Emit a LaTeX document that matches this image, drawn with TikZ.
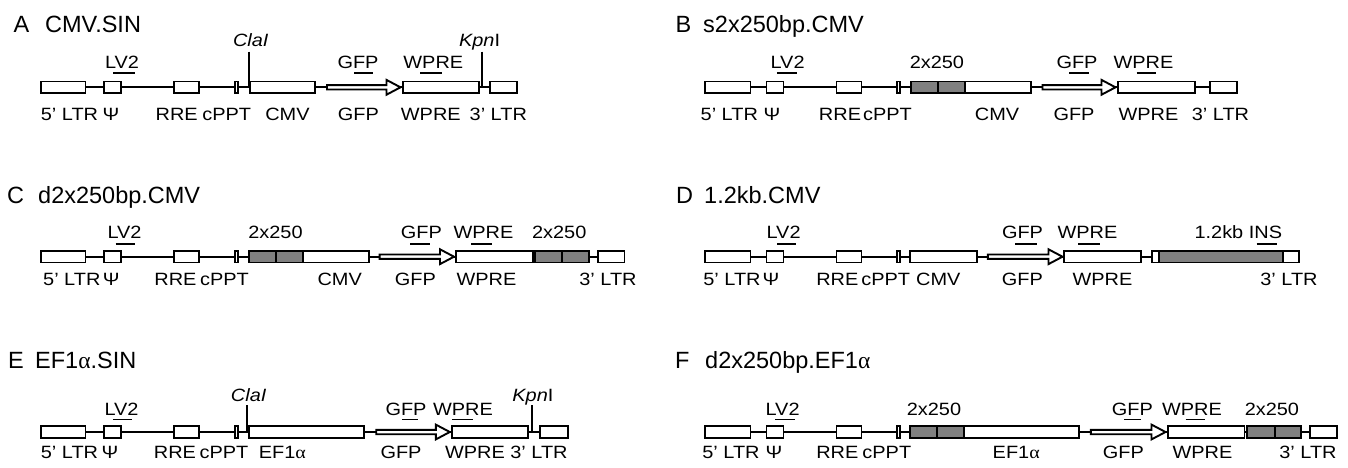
\documentclass[tikz,border=0pt]{standalone}
\usepackage{fontspec}
\setmainfont[FakeStretch=1.12]{Liberation Sans}
\newfontfamily\ttlfam{Liberation Sans}
\newfontfamily\symf[FakeStretch=1.12]{Liberation Serif}
\newfontfamily\symft{Liberation Serif}
\usetikzlibrary{backgrounds}
\definecolor{insgray}{RGB}{128,128,128}
\newcommand\lblfont{\fontsize{17.8}{20}\selectfont}
\newcommand\ttlfont{\ttlfam\fontsize{23.5}{27}\selectfont}
\newcommand\alp{{\symf α}}
\newcommand\alpt{{\symft α}}
\newcommand\mybox[4][]{%
  \pgfmathsetmacro\mbw{#4-#3}\pgfmathsetmacro\mbc{(#3+#4)/2}%
  \node[boxst,#1,minimum width=\mbw pt] (#2) at (\mbc,0) {};}
\newcommand\myarrow[3]{%
  \pgfmathsetmacro\mah{#3-14}%
  \draw[arrst] (#2,-2.2) -- (\mah,-2.2) -- (\mah,-7.4) -- (#3,0) -- (\mah,7.4) -- (\mah,2.2) -- (#2,2.2) -- cycle;
  \coordinate (#1) at (#3,0);}
\newcommand\mydiv[1]{\draw[bb] (#1,-5.9) -- (#1,5.9);}
\newcommand\myul[3]{\draw[ulst] (#1,#3) -- (#2,#3);}
\begin{document}
\begin{tikzpicture}[x=1pt,y=-1pt,
  boxst/.style={draw,line width=1.9pt,fill=white,rectangle,inner sep=0pt,minimum height=11.6pt,outer sep=0pt},
  grayst/.style={fill=insgray},
  arrst/.style={draw,line width=1.9pt,fill=white,line join=miter},
  bb/.style={line width=1.8pt},
  ulst/.style={line width=1.8pt},
  cut/.style={line width=1.8pt},
  lbl/.style={font=\lblfont,inner sep=0pt,anchor=base},
  ttl/.style={font=\ttlfont,inner sep=0pt,anchor=base west}]
\useasboundingbox (0,0) rectangle (1348,467);

% ================= A =================
\node[ttl] (a-let) at (13.5,32.7) {A};
\node[ttl] (a-ttl) at (45,32.7) {CMV.SIN};
\begin{scope}[shift={(0,87.3)}]
\mybox{a-ltr5}{41}{85.5}
\mybox{a-psi}{104}{121.3}
\mybox{a-rre}{174}{199.3}
\mybox{a-cppt}{234.8}{237.9}
\mybox{a-cmv}{250}{315}
\myarrow{a-gfp}{327}{400.5}
\mybox{a-wpre}{403.3}{479}
\mybox{a-ltr3}{490}{517.3}
\begin{scope}[on background layer]\draw[bb] (a-ltr5.center) -- (a-ltr3.center);\end{scope}
\coordinate (a-cla-t) at (248.7,-35.6); \coordinate (a-cla-b) at (248.7,0);
\coordinate (a-kpn-t) at (481.7,-35.6); \coordinate (a-kpn-b) at (481.7,0);
\draw[cut] (a-cla-t) -- (a-cla-b);
\draw[cut] (a-kpn-t) -- (a-kpn-b);
\node[lbl] (a-clal) at (250.8,-40.6) {\itshape ClaI};
\node[lbl] (a-kpnl) at (479.6,-40.6) {{\itshape Kpn}I};
\node[lbl] (a-lv2) at (122,-19) {LV2}; \myul{113}{135}{-14}
\node[lbl] (a-gfpt) at (358,-19) {GFP}; \myul{354.3}{373.3}{-14}
\node[lbl] (a-wpret) at (433.3,-19) {WPRE}; \myul{420}{441.7}{-14}
\node[lbl] (a-b1) at (69.5,33.5) {5' LTR};
\node[lbl] (a-b2) at (111,33.5) {Ψ};
\node[lbl] (a-b3) at (176.7,33.5) {RRE};
\node[lbl] (a-b4) at (226.7,33.5) {cPPT};
\node[lbl] (a-b5) at (287.5,33.5) {CMV};
\node[lbl] (a-b6) at (358.3,33.5) {GFP};
\node[lbl] (a-b7) at (430.8,33.5) {WPRE};
\node[lbl] (a-b8) at (498.3,33.5) {3' LTR};
\end{scope}

% ================= B =================
\node[ttl] (b-let) at (675.5,32.7) {B};
\node[ttl] (b-ttl) at (703,32.7) {s2x250bp.CMV};
\begin{scope}[shift={(0,87.3)}]
\mybox{b-ltr5}{705}{750.5}
\mybox{b-psi}{766.5}{783.5}
\mybox{b-rre}{836.5}{861.5}
\mybox{b-cppt}{897}{900}
\mybox[grayst]{b-ins}{911.2}{964.6}
\mybox{b-cmv}{964.6}{1030.6}
\mydiv{938}
\myarrow{b-gfp}{1042.5}{1115.5}
\mybox{b-wpre}{1118}{1195}
\mybox{b-ltr3}{1209.7}{1236.6}
\begin{scope}[on background layer]\draw[bb] (b-ltr5.center) -- (b-ltr3.center);\end{scope}
\node[lbl] (b-lv2) at (787.6,-19) {LV2}; \myul{776.8}{796.5}{-14}
\node[lbl] (b-ins-t) at (936.9,-19) {2x250};
\node[lbl] (b-gfpt) at (1077,-19) {GFP}; \myul{1069.4}{1089}{-14}
\node[lbl] (b-wpret) at (1143.5,-19) {WPRE}; \myul{1136.6}{1156.4}{-14}
\node[lbl] (b-b1) at (729.3,33.5) {5' LTR};
\node[lbl] (b-b2) at (772,33.5) {Ψ};
\node[lbl] (b-b3) at (840,33.5) {RRE};
\node[lbl] (b-b4) at (887.5,33.5) {cPPT};
\node[lbl] (b-b5) at (997,33.5) {CMV};
\node[lbl] (b-b6) at (1074,33.5) {GFP};
\node[lbl] (b-b7) at (1148.5,33.5) {WPRE};
\node[lbl] (b-b8) at (1220.5,33.5) {3' LTR};
\end{scope}

% ================= C =================
\node[ttl] (c-let) at (7,203) {C};
\node[ttl] (c-ttl) at (38,203) {d2x250bp.CMV};
\begin{scope}[shift={(0,256.7)}]
\mybox{c-ltr5}{41}{85.5}
\mybox{c-psi}{104}{121.3}
\mybox{c-rre}{174}{199.3}
\mybox{c-cppt}{234.8}{237.9}
\mybox[grayst]{c-ins1}{249}{303}
\mybox{c-cmv}{303}{369.4}
\mydiv{276}
\myarrow{c-gfp}{379.6}{454}
\mybox{c-wpre}{455.9}{532.7}
\mybox[grayst]{c-ins2}{534.7}{588.6}
\mydiv{561.7}
\mybox{c-ltr3}{598}{624.5}
\begin{scope}[on background layer]\draw[bb] (c-ltr5.center) -- (c-ltr3.center);\end{scope}
\node[lbl] (c-lv2) at (124.5,-18.4) {LV2}; \myul{115.5}{134.7}{-12.7}
\node[lbl] (c-ins1t) at (275.5,-18.4) {2x250};
\node[lbl] (c-gfpt) at (421.4,-18.4) {GFP}; \myul{410}{430}{-12.7}
\node[lbl] (c-wpret) at (483.5,-18.4) {WPRE}; \myul{471.4}{491.8}{-12.7}
\node[lbl] (c-ins2t) at (559.2,-18.4) {2x250};
\node[lbl] (c-b1) at (71.8,28.3) {5' LTR};
\node[lbl] (c-b2) at (111.2,28.3) {Ψ};
\node[lbl] (c-b3) at (175.5,28.3) {RRE};
\node[lbl] (c-b4) at (224.5,28.3) {cPPT};
\node[lbl] (c-b5) at (339.7,28.3) {CMV};
\node[lbl] (c-b6) at (415.3,28.3) {GFP};
\node[lbl] (c-b7) at (486.5,28.3) {WPRE};
\node[lbl] (c-b8) at (608,28.3) {3' LTR};
\end{scope}

% ================= D =================
\node[ttl] (d-let) at (676,203) {D};
\node[ttl] (d-ttl) at (704,203) {1.2kb.CMV};
\begin{scope}[shift={(0,256.7)}]
\mybox{d-ltr5}{705}{750.5}
\mybox{d-psi}{766.5}{783.5}
\mybox{d-rre}{836.5}{861.5}
\mybox{d-cppt}{897}{900}
\mybox{d-cmv}{910}{977.2}
\myarrow{d-gfp}{987.8}{1062.5}
\mybox{d-wpre}{1064.3}{1140.7}
\mybox{d-ltr3}{1151.7}{1299}
\mybox[grayst]{d-ins}{1159.3}{1282.7}
\begin{scope}[on background layer]\draw[bb] (d-ltr5.center) -- (d-ltr3.center);\end{scope}
\node[lbl] (d-lv2) at (783.6,-18.4) {LV2}; \myul{777.3}{796.3}{-12.7}
\node[lbl] (d-gfpt) at (1022.5,-18.4) {GFP}; \myul{1015}{1036.7}{-12.7}
\node[lbl] (d-wpret) at (1087.5,-18.4) {WPRE}; \myul{1078.3}{1100}{-12.7}
\node[lbl] (d-inst) at (1238.3,-18.4) {1.2kb INS}; \myul{1256.7}{1276.7}{-12.7}
\node[lbl] (d-b1) at (732,28.3) {5' LTR};
\node[lbl] (d-b2) at (771,28.3) {Ψ};
\node[lbl] (d-b3) at (837.3,28.3) {RRE};
\node[lbl] (d-b4) at (885.7,28.3) {cPPT};
\node[lbl] (d-b5) at (938.3,28.3) {CMV};
\node[lbl] (d-b6) at (1022.3,28.3) {GFP};
\node[lbl] (d-b7) at (1102.5,28.3) {WPRE};
\node[lbl] (d-b8) at (1289,28.3) {3' LTR};
\end{scope}

% ================= E =================
\node[ttl] (e-let) at (8,368) {E};
\node[ttl] (e-ttl) at (35,368) {EF1\alpt.SIN};
\begin{scope}[shift={(0,432)}]
\mybox{e-ltr5}{41}{85.5}
\mybox{e-psi}{104}{121.3}
\mybox{e-rre}{174}{199.3}
\mybox{e-cppt}{234.8}{237.9}
\mybox{e-ef1a}{248.8}{363.6}
\myarrow{e-gfp}{376.2}{449.8}
\mybox{e-wpre}{452.3}{528.1}
\mybox{e-ltr3}{539.6}{568.3}
\begin{scope}[on background layer]\draw[bb] (e-ltr5.center) -- (e-ltr3.center);\end{scope}
\coordinate (e-cla-t) at (247,-27); \coordinate (e-cla-b) at (247,0);
\coordinate (e-kpn-t) at (532,-27); \coordinate (e-kpn-b) at (532,0);
\draw[cut] (e-cla-t) -- (e-cla-b);
\draw[cut] (e-kpn-t) -- (e-kpn-b);
\node[lbl] (e-clal) at (248.7,-30.3) {\itshape ClaI};
\node[lbl] (e-kpnl) at (532.9,-30.3) {{\itshape Kpn}I};
\node[lbl] (e-lv2) at (121.5,-17) {LV2}; \myul{112.9}{132}{-12.5}
\node[lbl] (e-gfpt) at (406,-17) {GFP}; \myul{402}{418}{-12.5}
\node[lbl] (e-wpret) at (463,-17) {WPRE}; \myul{452}{473}{-12.5}
\node[lbl] (e-b1) at (69.5,26.3) {5' LTR};
\node[lbl] (e-b2) at (110,26.3) {Ψ};
\node[lbl] (e-b3) at (175,26.3) {RRE};
\node[lbl] (e-b4) at (224,26.3) {cPPT};
\node[lbl] (e-b5) at (282.3,26.3) {EF1\alp};
\node[lbl] (e-b6) at (401,26.3) {GFP};
\node[lbl] (e-b7) at (475,26.3) {WPRE};
\node[lbl] (e-b8) at (539,26.3) {3' LTR};
\end{scope}

% ================= F =================
\node[ttl] (f-let) at (675,368) {F};
\node[ttl] (f-ttl) at (705,368) {d2x250bp.EF1\alpt};
\begin{scope}[shift={(0,432)}]
\mybox{f-ltr5}{705}{750.5}
\mybox{f-psi}{766.5}{783.5}
\mybox{f-rre}{836.5}{861.5}
\mybox{f-cppt}{897}{900}
\mybox[grayst]{f-ins1}{909.9}{963.8}
\mybox{f-ef1a}{963.8}{1079.1}
\mydiv{937.3}
\myarrow{f-gfp}{1090.9}{1165.5}
\mybox{f-wpre}{1167.9}{1244.5}
\mybox[grayst]{f-ins2}{1246.6}{1301.3}
\mydiv{1274.8}
\mybox{f-ltr3}{1309.7}{1337}
\begin{scope}[on background layer]\draw[bb] (f-ltr5.center) -- (f-ltr3.center);\end{scope}
\node[lbl] (f-lv2) at (782.6,-17) {LV2}; \myul{775.2}{795.4}{-12.5}
\node[lbl] (f-ins1t) at (934,-17) {2x250};
\node[lbl] (f-gfpt) at (1132.4,-17) {GFP}; \myul{1124}{1141}{-12.5}
\node[lbl] (f-wpret) at (1192,-17) {WPRE}; \myul{1185.6}{1204.5}{-12.5}
\node[lbl] (f-ins2t) at (1271.9,-17) {2x250};
\node[lbl] (f-b1) at (731,26.3) {5' LTR};
\node[lbl] (f-b2) at (774,26.3) {Ψ};
\node[lbl] (f-b3) at (837.3,26.3) {RRE};
\node[lbl] (f-b4) at (886.8,26.3) {cPPT};
\node[lbl] (f-b5) at (1016.2,26.3) {EF1\alp};
\node[lbl] (f-b6) at (1123.3,26.3) {GFP};
\node[lbl] (f-b7) at (1202.4,26.3) {WPRE};
\node[lbl] (f-b8) at (1308,26.3) {3' LTR};
\end{scope}
\end{tikzpicture}
\end{document}
